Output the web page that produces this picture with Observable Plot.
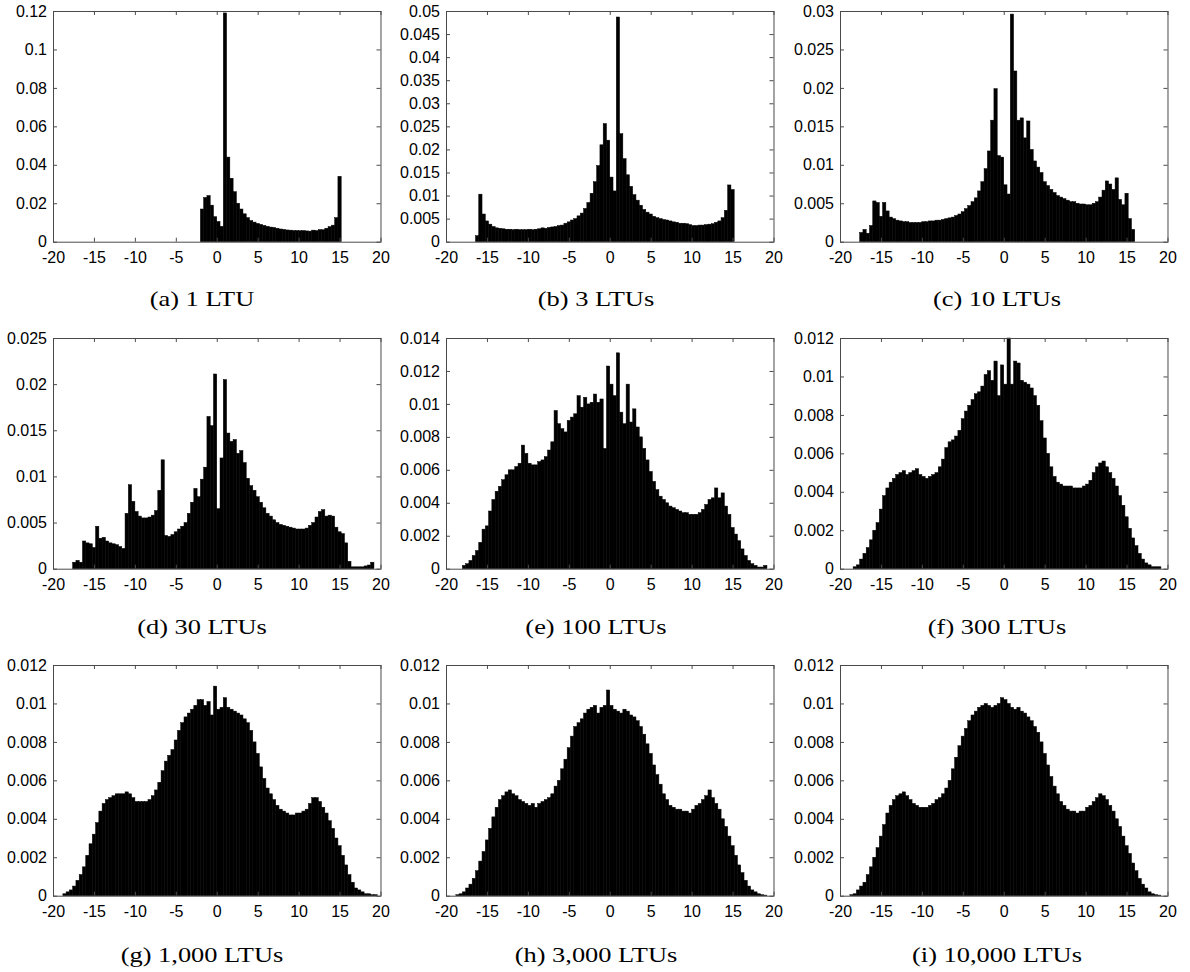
<!DOCTYPE html>
<html>
<head>
<meta charset="utf-8">
<script src="https://cdn.jsdelivr.net/npm/d3@7"></script>
<script src="https://cdn.jsdelivr.net/npm/@observablehq/plot@0.6"></script>
<style>
  body { margin: 0; background: #fff; }
  #fig { position: relative; width: 1190px; height: 972px; overflow: hidden; background: #fff; }
  .panel { position: absolute; }
  .cap { position: absolute; font-family: "Liberation Serif", "Times New Roman", serif; font-size: 22px; color: #000; white-space: nowrap; transform: translate(-50%, -50%) scaleX(1.2); }
</style>
</head>
<body>
<div id="fig"></div>
<script>
// Histogram bins are 0.4 wide; each series lists bin heights from its first bin edge.
const binWidth = 0.4;
const xTicks = [-20, -15, -10, -5, 0, 5, 10, 15, 20];

const captions = ["(a) 1 LTU", "(b) 3 LTUs", "(c) 10 LTUs", "(d) 30 LTUs", "(e) 100 LTUs",
                  "(f) 300 LTUs", "(g) 1,000 LTUs", "(h) 3,000 LTUs", "(i) 10,000 LTUs"];

const yTicksA = [0, 0.02, 0.04, 0.06, 0.08, 0.1, 0.12];
const yTicksB = [0, 0.005, 0.01, 0.015, 0.02, 0.025, 0.03, 0.035, 0.04, 0.045, 0.05];
const yTicksC = [0, 0.005, 0.01, 0.015, 0.02, 0.025, 0.03];
const yTicksD = [0, 0.005, 0.01, 0.015, 0.02, 0.025];
const yTicksE = [0, 0.002, 0.004, 0.006, 0.008, 0.01, 0.012, 0.014];
const yTicksF = [0, 0.002, 0.004, 0.006, 0.008, 0.01, 0.012];
const yTicksG = [0, 0.002, 0.004, 0.006, 0.008, 0.01, 0.012];
const yTicksH = [0, 0.002, 0.004, 0.006, 0.008, 0.01, 0.012];
const yTicksI = [0, 0.002, 0.004, 0.006, 0.008, 0.01, 0.012];

// (a) 1 LTU
const startA = -2.0;
const valuesA = [0.017, 0.023, 0.024, 0.019, 0.013, 0.0105, 0.008, 0.119, 0.044, 0.033,
  0.026, 0.020, 0.017, 0.0145, 0.0125, 0.011, 0.0102, 0.0095, 0.009, 0.0085,
  0.008, 0.0076, 0.0074, 0.007, 0.0066, 0.0064, 0.0061, 0.006, 0.0058, 0.0058,
  0.0057, 0.0058, 0.0056, 0.0055, 0.006, 0.0058, 0.0063, 0.0062, 0.007, 0.0078,
  0.0086, 0.0125, 0.034];

// (b) 3 LTUs
const startB = -16.4;
const valuesB = [0.0013, 0.0103, 0.006, 0.0045, 0.0038, 0.0033, 0.003, 0.0029, 0.0028, 0.0027,
  0.0027, 0.0026, 0.0027, 0.0026, 0.0026, 0.0026, 0.0027, 0.0026, 0.0027, 0.0028,
  0.003, 0.0029, 0.0031, 0.0032, 0.0033, 0.0035, 0.0036, 0.004, 0.0043, 0.0047,
  0.005, 0.0056, 0.0062, 0.0072, 0.0085, 0.0105, 0.013, 0.0165, 0.021, 0.0256,
  0.022, 0.014, 0.011, 0.0487, 0.0234, 0.018, 0.0145, 0.012, 0.0102, 0.009,
  0.0079, 0.007, 0.0064, 0.006, 0.0055, 0.0052, 0.005, 0.0048, 0.0047, 0.0045,
  0.0043, 0.0042, 0.004, 0.004, 0.0039, 0.0037, 0.0035, 0.0035, 0.0036, 0.0036,
  0.0037, 0.0038, 0.0039, 0.0042, 0.0045, 0.0052, 0.0068, 0.0123, 0.0113];

// (c) 10 LTUs
const startC = -17.6;
const valuesC = [0.0012, 0.0016, 0.0011, 0.0021, 0.0053, 0.0051, 0.0033, 0.0051, 0.004, 0.0032,
  0.003, 0.0028, 0.0027, 0.0026, 0.0026, 0.0025, 0.0025, 0.0025, 0.0025, 0.0026,
  0.0026, 0.0027, 0.0027, 0.0028, 0.0028, 0.0029, 0.003, 0.0031, 0.0032, 0.0034,
  0.0036, 0.0039, 0.0043, 0.0047, 0.0052, 0.0057, 0.0066, 0.0078, 0.0095, 0.0118,
  0.0158, 0.0199, 0.0112, 0.011, 0.0074, 0.0062, 0.0296, 0.0222, 0.0158, 0.0161,
  0.0135, 0.0157, 0.012, 0.0105, 0.0097, 0.009, 0.0078, 0.0073, 0.0068, 0.0064,
  0.006, 0.0058, 0.0056, 0.0054, 0.0052, 0.0052, 0.005, 0.0049, 0.0049, 0.0048,
  0.0048, 0.005, 0.0052, 0.0058, 0.0067, 0.0079, 0.0075, 0.0068, 0.0083, 0.0055,
  0.0048, 0.0063, 0.003, 0.0016];

// (d) 30 LTUs
const startD = -17.6;
const valuesD = [0.0007, 0.0009, 0.0007, 0.003, 0.0028, 0.0027, 0.0023, 0.0046, 0.0033, 0.0034,
  0.003, 0.0028, 0.0027, 0.0026, 0.0024, 0.0022, 0.006, 0.0091, 0.0073, 0.0062,
  0.0057, 0.0055, 0.0055, 0.0056, 0.0058, 0.0063, 0.0085, 0.0118, 0.0036, 0.0035,
  0.0037, 0.004, 0.0043, 0.0046, 0.005, 0.006, 0.0072, 0.0087, 0.0078, 0.0097,
  0.011, 0.0165, 0.0155, 0.0211, 0.0065, 0.012, 0.0205, 0.0147, 0.0138, 0.014,
  0.0125, 0.0128, 0.0115, 0.0098, 0.009, 0.0085, 0.0078, 0.0072, 0.0066, 0.006,
  0.0057, 0.0053, 0.005, 0.0048, 0.0047, 0.0046, 0.0045, 0.0044, 0.0043, 0.0043,
  0.0043, 0.0044, 0.0047, 0.005, 0.0056, 0.0062, 0.0064, 0.0057, 0.0058, 0.0057,
  0.0045, 0.004, 0.0038, 0.0028, 0.0008, 0.0002, 0.0002, 0.0002, 0.0002, 0.0003,
  0.0004, 0.0007];

// (e) 100 LTUs
const startE = -18.0;
const valuesE = [0.0002, 0.0003, 0.0005, 0.0008, 0.0011, 0.0016, 0.0024, 0.0026, 0.0035, 0.0042,
  0.0047, 0.005, 0.0054, 0.0057, 0.006, 0.006, 0.0062, 0.0064, 0.0075, 0.007,
  0.0064, 0.0063, 0.0063, 0.0065, 0.0066, 0.0068, 0.0072, 0.0077, 0.0096, 0.0088,
  0.0085, 0.0083, 0.009, 0.0092, 0.0094, 0.0105, 0.0098, 0.0104, 0.01, 0.0101,
  0.0106, 0.0101, 0.0103, 0.0073, 0.0123, 0.0112, 0.0105, 0.0131, 0.0095, 0.0088,
  0.0112, 0.0089, 0.0097, 0.0086, 0.008, 0.0073, 0.0066, 0.0059, 0.0053, 0.0048,
  0.0044, 0.0042, 0.004, 0.0038, 0.0037, 0.0036, 0.0035, 0.0034, 0.0034, 0.0033,
  0.0033, 0.0033, 0.0034, 0.0036, 0.0039, 0.0042, 0.0043, 0.0049, 0.0043, 0.0046,
  0.0038, 0.0033, 0.0025, 0.0021, 0.0017, 0.0012, 0.0008, 0.0005, 0.0003, 0.0002,
  0.0001, 0.0001, 0.0002];

// (f) 300 LTUs
const startF = -18.4;
const valuesF = [0.0001, 0.0002, 0.0005, 0.0008, 0.0011, 0.0015, 0.002, 0.0024, 0.0031, 0.0038,
  0.0042, 0.0045, 0.0047, 0.0049, 0.005, 0.0051, 0.0049, 0.005, 0.0051, 0.0052,
  0.0049, 0.0048, 0.0047, 0.0048, 0.0049, 0.005, 0.0053, 0.0057, 0.0063, 0.0066,
  0.0067, 0.0069, 0.0072, 0.0078, 0.0082, 0.0085, 0.0088, 0.0091, 0.0092, 0.0095,
  0.0101, 0.0103, 0.0098, 0.0108, 0.009, 0.0106, 0.0096, 0.012, 0.0096, 0.0108,
  0.0107, 0.0098, 0.0097, 0.0096, 0.0094, 0.009, 0.0085, 0.0077, 0.0068, 0.006,
  0.0053, 0.0048, 0.0045, 0.0044, 0.0043, 0.0043, 0.0043, 0.0042, 0.0042, 0.0042,
  0.0043, 0.0044, 0.0046, 0.005, 0.0053, 0.0055, 0.0056, 0.0053, 0.005, 0.0047,
  0.0043, 0.0038, 0.0033, 0.0027, 0.0021, 0.0016, 0.0012, 0.0008, 0.0005, 0.0003,
  0.0002, 0.0001, 0.0001, 0.0001];

// (g) 1,000 LTUs
const startG = -18.8;
const valuesG = [0.0001, 0.0002, 0.0003, 0.0005, 0.0008, 0.0011, 0.0015, 0.0021, 0.0027, 0.0032,
  0.0038, 0.0044, 0.0048, 0.005, 0.0051, 0.0052, 0.0053, 0.0053, 0.0053, 0.0054,
  0.0053, 0.0051, 0.0049, 0.0049, 0.0049, 0.0049, 0.005, 0.0052, 0.0055, 0.0059,
  0.0065, 0.007, 0.0073, 0.0076, 0.0081, 0.0086, 0.009, 0.0093, 0.0095, 0.0097,
  0.0099, 0.0102, 0.0102, 0.0099, 0.0101, 0.0094, 0.0109, 0.0097, 0.0098, 0.0103,
  0.0098, 0.0097, 0.0096, 0.0095, 0.0094, 0.0092, 0.009, 0.0086, 0.008, 0.0074,
  0.0067, 0.0061, 0.0056, 0.0053, 0.005, 0.0047, 0.0045, 0.0044, 0.0043, 0.0042,
  0.0042, 0.0043, 0.0043, 0.0044, 0.0045, 0.0048, 0.0051, 0.0051, 0.0049, 0.0046,
  0.0043, 0.0039, 0.0035, 0.003, 0.0026, 0.0021, 0.0016, 0.0011, 0.0007, 0.0004,
  0.0003, 0.0002, 0.0001, 0.0001, 0.00005, 0.00005];

// (h) 3,000 LTUs
const startH = -18.8;
const valuesH = [0.00005, 0.0001, 0.0002, 0.0004, 0.0006, 0.0009, 0.0013, 0.0018, 0.0023, 0.0029,
  0.0035, 0.0041, 0.0046, 0.005, 0.0052, 0.0054, 0.0055, 0.0053, 0.0052, 0.005,
  0.0049, 0.0048, 0.0047, 0.0048, 0.0046, 0.0048, 0.0049, 0.005, 0.0051, 0.0053,
  0.0057, 0.006, 0.0066, 0.0071, 0.0077, 0.0083, 0.0088, 0.009, 0.0092, 0.0095,
  0.0097, 0.0098, 0.0099, 0.0095, 0.0098, 0.0099, 0.0107, 0.0099, 0.0097, 0.0096,
  0.0095, 0.0097, 0.0096, 0.0094, 0.0093, 0.0091, 0.0088, 0.0084, 0.0079, 0.0074,
  0.0068, 0.0063, 0.0058, 0.0053, 0.005, 0.0047, 0.0046, 0.0045, 0.0045, 0.0044,
  0.0044, 0.0043, 0.0045, 0.0047, 0.0048, 0.005, 0.0052, 0.0055, 0.0051, 0.0048,
  0.0045, 0.004, 0.0036, 0.0031, 0.0026, 0.0021, 0.0016, 0.0012, 0.0008, 0.0005,
  0.0003, 0.0002, 0.0001, 0.00005, 0.00003];

// (i) 10,000 LTUs
const startI = -18.8;
const valuesI = [0.00005, 0.0001, 0.0003, 0.0005, 0.0007, 0.0011, 0.0015, 0.002, 0.0025, 0.0031,
  0.0037, 0.0043, 0.0047, 0.005, 0.0052, 0.0053, 0.0054, 0.0052, 0.005, 0.0048,
  0.0047, 0.0046, 0.0046, 0.0046, 0.0047, 0.0048, 0.005, 0.0051, 0.0053, 0.0056,
  0.006, 0.0066, 0.0072, 0.0078, 0.0083, 0.0087, 0.0091, 0.0094, 0.0096, 0.0098,
  0.0099, 0.01, 0.0099, 0.0098, 0.0099, 0.01, 0.0103, 0.0102, 0.01, 0.0098,
  0.0097, 0.0098, 0.0096, 0.0095, 0.0093, 0.0091, 0.0088, 0.0085, 0.008, 0.0074,
  0.0068, 0.0062, 0.0057, 0.0053, 0.0049, 0.0047, 0.0045, 0.0044, 0.0044, 0.0043,
  0.0044, 0.0044, 0.0046, 0.0047, 0.0049, 0.0051, 0.0053, 0.0052, 0.005, 0.0047,
  0.0044, 0.004, 0.0036, 0.0031, 0.0026, 0.0022, 0.0017, 0.0013, 0.0009, 0.0006,
  0.0004, 0.0002, 0.0001, 0.00005, 0.00003];

const series = [
  {start: startA, values: valuesA, yTicks: yTicksA},
  {start: startB, values: valuesB, yTicks: yTicksB},
  {start: startC, values: valuesC, yTicks: yTicksC},
  {start: startD, values: valuesD, yTicks: yTicksD},
  {start: startE, values: valuesE, yTicks: yTicksE},
  {start: startF, values: valuesF, yTicks: yTicksF},
  {start: startG, values: valuesG, yTicks: yTicksG},
  {start: startH, values: valuesH, yTicks: yTicksH},
  {start: startI, values: valuesI, yTicks: yTicksI}
];

// Grid layout: frame box of every panel and where its caption sits.
const colLeft = [53.3, 446, 840];
const rowTop = [11, 338.3, 665];
const boxW = 327.5, boxH = 230.7;
const mL = 62, mR = 12, mT = 12, mB = 34;
const capX = [202, 596, 997];
const capY = [299, 627, 955];

const fmt = d => String(+d.toFixed(6));
const fig = document.getElementById("fig");
const frameColor = "#4a4a4a";
const tickFont = {fontSize: 16, fontFamily: "'Liberation Sans', Arial, Helvetica, sans-serif", fill: "#000"};

series.forEach((s, i) => {
  const col = i % 3, row = Math.floor(i / 3);
  const bars = s.values.map((v, j) => ({x1: s.start + j * binWidth, x2: s.start + (j + 1) * binWidth, y: v}));
  const yMax = s.yTicks[s.yTicks.length - 1];
  const chart = Plot.plot({
    width: boxW + mL + mR,
    height: boxH + mT + mB,
    marginLeft: mL, marginRight: mR, marginTop: mT, marginBottom: mB,
    x: {domain: [-20, 20]},
    y: {domain: [0, yMax]},
    style: {background: "transparent", overflow: "visible"},
    marks: [
      Plot.rect(bars, {x1: "x1", x2: "x2", y1: () => 0, y2: "y", fill: "#000", stroke: "#000", strokeWidth: 0.5}),
      Plot.frame({stroke: frameColor, strokeWidth: 1}),
      // inward ticks on all four sides
      Plot.tickX(xTicks, {x: d => d, insetTop: boxH - 4, stroke: frameColor}),
      Plot.tickX(xTicks, {x: d => d, insetBottom: boxH - 4, stroke: frameColor}),
      Plot.tickY(s.yTicks, {y: d => d, insetRight: boxW - 4, stroke: frameColor}),
      Plot.tickY(s.yTicks, {y: d => d, insetLeft: boxW - 4, stroke: frameColor}),
      Plot.axisX({ticks: xTicks, tickSize: 0, tickPadding: 9.5, tickFormat: d => String(d), label: null, ...tickFont}),
      Plot.axisY({ticks: s.yTicks, tickSize: 0, tickPadding: 6.5, tickFormat: fmt, label: null, ...tickFont})
    ]
  });
  const holder = document.createElement("div");
  holder.className = "panel";
  holder.style.left = (colLeft[col] - mL) + "px";
  holder.style.top = (rowTop[row] - mT) + "px";
  holder.appendChild(chart);
  fig.appendChild(holder);

  const cap = document.createElement("div");
  cap.className = "cap";
  cap.textContent = captions[i];
  cap.style.left = capX[col] + "px";
  cap.style.top = capY[row] + "px";
  fig.appendChild(cap);
});
</script>
</body>
</html>
